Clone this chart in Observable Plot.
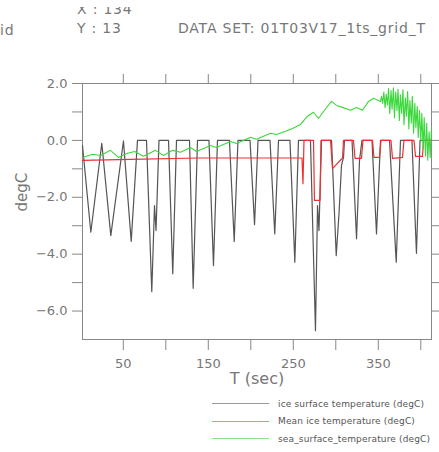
<!DOCTYPE html>
<html><head><meta charset="utf-8">
<script src="https://cdn.jsdelivr.net/npm/d3@7"></script>
<script src="https://cdn.jsdelivr.net/npm/@observablehq/plot@0.6"></script>
<style>
body{margin:0;background:#fff;}
#wrap{position:relative;width:439px;height:452px;overflow:hidden;font-family:"DejaVu Sans",sans-serif;color:#777;background:#fff;}
#wrap svg{position:absolute;left:0;top:0;}
.hdr{position:absolute;font-size:14px;line-height:14px;white-space:pre;letter-spacing:0.8px;color:#777;}
.clip{position:absolute;overflow:hidden;}
.leg{position:absolute;font-size:9px;line-height:9px;white-space:pre;color:#555;letter-spacing:0.15px;}
.legline{position:absolute;height:0;border-top:1.5px solid;}
</style></head>
<body><div id="wrap"></div>
<script>
// ---- data (T in sec, values in degC) ----
const xTicks = [50, 100, 150, 200, 250, 300, 350, 400];
const yTicks = [2, 1, 0, -1, -2, -3, -4, -5, -6];

const iceSurfT = [2.0, 11.8, 24.7, 35.3, 50.2, 59.3, 66.7, 77.3, 83.5, 86.7, 88.5, 92.0, 103.2, 108.2, 112.6, 127.9, 132.2, 137.3, 150.8, 156.1, 160.8, 174.9, 180.5, 184.9, 199.1, 204.4, 208.5, 222.6, 228.2, 232.6, 246.1, 251.8, 256.1, 270.2, 276.1, 278.5, 280.2, 283.2, 295.0, 300.5, 303.8, 306.7, 309.1, 310.2, 319.1, 324.4, 327.9, 330.8, 342.6, 347.9, 352.6, 363.2, 371.1, 376.1, 389.6, 394.9, 399.1, 412.6];
const iceSurfV = [-0.18, -3.23, -0.10, -3.35, -0.02, -3.55, 0, 0, -5.32, -2.29, -3.17, 0, 0, -4.69, 0, 0, -5.20, 0, 0, -4.40, 0, 0, -3.55, 0, 0, -2.96, 0, 0, -3.29, 0, 0, -4.28, 0, 0, -6.69, -2.29, -3.17, 0, 0, -4.05, -2.57, -0.88, -0.60, 0, 0, -3.46, -0.70, 0, 0, -3.29, 0, 0, -4.28, 0, 0, -3.97, 0, 0];

const meanIceT = [2.0, 58.5, 138.5, 258.5, 260.2, 261.4, 262.6, 273.8, 274.9, 281.4, 282.6, 293.8, 296.1, 307.9, 309.1, 320.8, 322.6, 330.2, 332.0, 343.2, 344.9, 351.4, 353.2, 364.9, 366.7, 378.5, 380.2, 392.0, 393.8, 402.0, 403.2, 412.6];
const meanIceV = [-0.70, -0.67, -0.62, -0.62, -0.62, -1.52, 0, 0, -2.11, -2.11, 0, 0, -0.99, -0.62, 0, 0, -0.63, -0.63, 0, 0, -0.60, -0.60, 0, 0, -0.63, -0.60, 0, 0, -0.56, -0.56, 0, 0];

const sstT = [2.0, 13.8, 23.2, 34.9, 44.4, 53.8, 63.2, 73.8, 87.9, 97.3, 107.9, 117.3, 129.1, 136.1, 152.6, 159.6, 176.1, 183.2, 199.6, 206.7, 223.2, 230.2, 240.8, 249.1, 258.5, 266.7, 273.8, 279.6, 286.7, 294.9, 300.8, 307.9, 317.3, 324.4, 331.4, 338.5, 344.4, 352.6,
  353.8, 355.2, 356.5, 358.0, 359.3, 360.8, 362.0, 363.5, 365.0, 366.2, 367.8, 369.0, 370.5, 372.0, 373.2, 374.8, 376.0, 377.5, 379.0, 380.2, 381.8, 383.0, 384.5, 386.0, 387.2, 388.8, 390.0, 391.5, 393.0, 394.2, 395.8, 397.0, 398.5, 400.0, 401.2, 402.8, 404.0, 405.5, 407.0, 408.2, 409.8, 411.0, 412.5];
const sstV = [-0.60, -0.49, -0.53, -0.35, -0.60, -0.46, -0.39, -0.56, -0.35, -0.53, -0.35, -0.42, -0.25, -0.39, -0.18, -0.25, -0.04, -0.11, 0.11, 0.04, 0.25, 0.21, 0.32, 0.42, 0.56, 0.85, 0.99, 0.77, 1.06, 1.37, 1.23, 1.16, 1.06, 1.16, 1.06, 1.37, 1.48, 1.37,
  1.55, 1.30, 1.70, 1.15, 1.62, 1.25, 1.82, 0.95, 1.75, 1.10, 1.85, 0.80, 1.70, 1.05, 1.80, 0.70, 1.60, 0.95, 1.78, 0.55, 1.50, 0.85, 1.72, 0.40, 1.40, 0.60, 1.55, 0.25, 1.30, 0.45, 1.20, 0.10, 1.05, -0.05, 0.95, -0.30, 0.80, -0.55, 0.60, -0.70, 0.30, -0.60, 0.40];

const legendLabels = ["ice surface temperature (degC)", "Mean ice temperature (degC)", "sea_surface_temperature (degC)"];
const legendColors = ["#999999", "#f08a8a", "#8ee08e"];

const iceSurf = iceSurfT.map((t, i) => ({t, v: iceSurfV[i]}));
const meanIce = meanIceT.map((t, i) => ({t, v: meanIceV[i]}));
const sst = sstT.map((t, i) => ({t, v: sstV[i]}));

const fmt = d3.format(".1f");
const axisColor = "#888";

const chart = Plot.plot({
  width: 439, height: 452,
  marginTop: 83, marginBottom: 113, marginLeft: 82, marginRight: 8,
  style: {fontFamily: "DejaVu Sans", fontSize: "13px", color: "#777", background: "white", overflow: "visible"},
  x: {domain: [2, 412.6]},
  y: {domain: [-7, 2]},
  marks: [
    Plot.frame({stroke: axisColor}),
    Plot.axisX({anchor: "bottom", ticks: xTicks, tickSize: 11, tickPadding: 8, label: null,
      tickFormat: d => (d % 100 === 50 ? String(d) : ""), stroke: axisColor}),
    Plot.axisX({anchor: "top", ticks: xTicks, tickSize: 10, label: null, tickFormat: () => "", stroke: axisColor}),
    Plot.axisY({anchor: "left", ticks: yTicks, tickSize: 10, tickPadding: 5, label: null,
      tickFormat: d => (d % 2 === 0 ? fmt(d) : ""), stroke: axisColor}),
    Plot.axisY({anchor: "right", ticks: yTicks, tickSize: 8, label: null, tickFormat: () => "", stroke: axisColor}),
    Plot.text(["degC"], {frameAnchor: "left", rotate: -90, dx: -60, fontSize: 15, fill: "#777"}),
    Plot.text(["T (sec)"], {frameAnchor: "bottom", dy: 44, fontSize: 16, fill: "#777"}),
    Plot.line(iceSurf, {x: "t", y: "v", stroke: "#555", strokeWidth: 1.2}),
    Plot.line(meanIce, {x: "t", y: "v", stroke: "#f03030", strokeWidth: 1.2}),
    Plot.line(sst, {x: "t", y: "v", stroke: "#3ad83a", strokeWidth: 1.1})
  ]
});

const wrap = document.getElementById("wrap");
wrap.appendChild(chart);

function addDiv(cls, text, left, top, parent) {
  const d = document.createElement("div");
  d.className = cls; d.textContent = text;
  d.style.left = left + "px"; d.style.top = top + "px";
  (parent || wrap).appendChild(d);
  return d;
}
// header
const clip = document.createElement("div");
clip.className = "clip";
clip.style.left = "70px"; clip.style.top = "7px"; clip.style.width = "80px"; clip.style.height = "8px";
wrap.appendChild(clip);
addDiv("hdr", "X : 134", 7, -5.5, clip);
addDiv("hdr", "Y : 13", 77, 21);
addDiv("hdr", "DATA SET: 01T03V17_1ts_grid_T", 178, 21);
addDiv("hdr", "id", 0, 23);
// legend
const legY = [404, 421.5, 439];
legendLabels.forEach((lab, i) => {
  const l = document.createElement("div");
  l.className = "legline";
  l.style.left = "212px"; l.style.width = "57px"; l.style.top = (legY[i] - 0.75) + "px";
  l.style.borderTopColor = legendColors[i];
  wrap.appendChild(l);
  addDiv("leg", lab, 278, legY[i] - 4.5);
});
</script>
</body></html>
